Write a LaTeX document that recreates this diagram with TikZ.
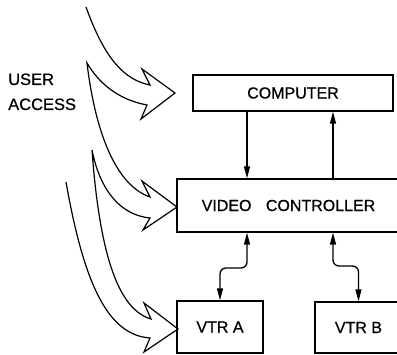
\documentclass[tikz,border=0pt]{standalone}
\usepackage{fontspec}
\setmainfont{Liberation Sans}
\newfontfamily\letterfont{Liberation Sans}[FakeBold=0.7]
\usetikzlibrary{arrows.meta}
\begin{document}
\begin{tikzpicture}[x=1pt,y=-1pt,
  box/.style={draw,line width=1.3pt,inner sep=0pt,font=\letterfont\fontsize{16}{16}\selectfont},
  label/.style={font=\letterfont\fontsize{16.5}{16.5}\selectfont,inner sep=0pt,anchor=base west},
  link/.style={line width=1.3pt,-{Triangle[length=12pt,width=6pt]}},
  duplex/.style={line width=1.3pt,rounded corners=6pt,
    {Triangle[length=12pt,width=6pt]}-{Triangle[length=12pt,width=6pt]}},
  hollow/.style={line width=1.2pt,line join=miter}]
\useasboundingbox (0,0) rectangle (397,355);
\clip (0,0) rectangle (397,355);

% blocks
\node[box,minimum width=200pt,minimum height=36pt] (comp) at (293,93) {COMPUTER};
\node[box,minimum width=223pt,minimum height=53pt] (vc) at (288.5,205.5) {VIDEO\hspace{0.9em}CONTROLLER};
\node[box,minimum width=86pt,minimum height=52pt] (vtra) at (220,327) {VTR A};
\node[box,minimum width=87pt,minimum height=51pt] (vtrb) at (358.5,327.5) {VTR B};

% access label
\node[label] (user) at (8,85) {USER};
\node[label] (access) at (8,110) {ACCESS};

% columns of the links
\coordinate (cl) at (247,0);
\coordinate (cr) at (333,0);
\coordinate (kA) at (220,268);
\coordinate (kB) at (358.5,266);

% computer <-> controller
\draw[link] (comp.south -| cl) -- (vc.north -| cl);
\draw[link] (vc.north -| cr) -- (comp.south -| cr);

% controller <-> recorders
\draw[duplex] (vc.south -| cl) |- (kA) -- (vtra.north);
\draw[duplex] (vc.south -| cr) |- (kB) -- (vtrb.north);

% hollow user-access arrows, one continuous outline
\draw[hollow]
  (86,7) .. controls (105,60) and (125,80) .. (150,85)
  -- (142,69) -- (175,93) -- (141,119) -- (147,105)
  .. controls (120,100) and (100,85) .. (87,63)
  .. controls (95,130) and (115,185) .. (150,197)
  -- (142,181) -- (177,207) -- (143,230) -- (150,218)
  .. controls (120,215) and (100,190) .. (92,150)
  .. controls (100,260) and (120,310) .. (151,319)
  -- (144,303) -- (178,329) -- (144,352) -- (150,338)
  .. controls (110,335) and (85,290) .. (66,182);
\end{tikzpicture}
\end{document}
